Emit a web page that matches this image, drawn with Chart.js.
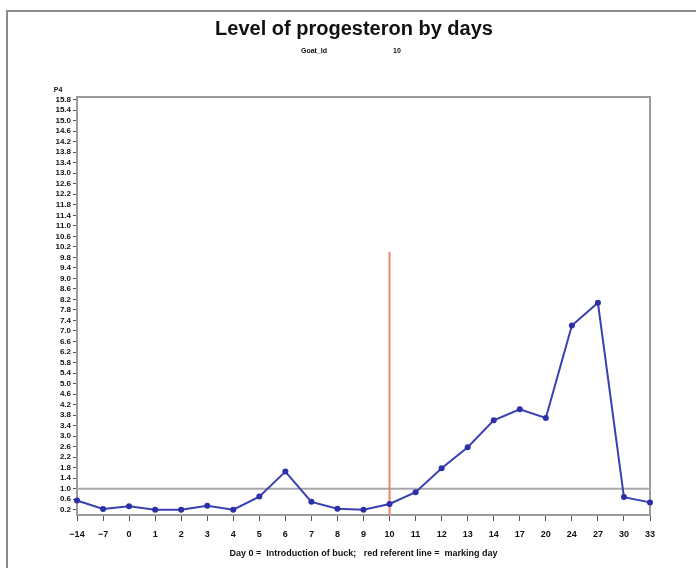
<!DOCTYPE html>
<html>
<head>
<meta charset="utf-8">
<script src="https://cdn.jsdelivr.net/npm/chart.js@4"></script>
<style>
  html, body { margin: 0; padding: 0; background: #fff; }
  #wrap { width: 696px; height: 568px; }
</style>
</head>
<body>
<div id="wrap"><canvas id="chart" width="696" height="568"></canvas></div>
<script>
// dados
const days = ['−14', '−7', '0', '1', '2', '3', '4', '5', '6', '7', '8', '9', '10',
              '11', '12', '13', '14', '17', '20', '24', '27', '30', '33'];
const progesterone = [0.55, 0.23, 0.33, 0.2, 0.2, 0.35, 0.2, 0.7, 1.65, 0.5, 0.24, 0.2, 0.42,
                      0.87, 1.78, 2.58, 3.6, 4.02, 3.69, 7.21, 8.07, 0.68, 0.48];
const yTicks = [0.2, 0.6, 1.0, 1.4, 1.8, 2.2, 2.6, 3.0, 3.4, 3.8, 4.2, 4.6, 5.0, 5.4, 5.8,
                6.2, 6.6, 7.0, 7.4, 7.8, 8.2, 8.6, 9.0, 9.4, 9.8, 10.2, 10.6, 11.0, 11.4,
                11.8, 12.2, 12.6, 13.0, 13.4, 13.8, 14.2, 14.6, 15.0, 15.4, 15.8];
const refLevel = 1.0;      // linha horizontal cinza
const markingDay = '10';   // linha vermelha
const markingTop = 10;

const FONT = '"Liberation Sans", Arial, sans-serif';

// moldura + textos do título
const decorations = {
  id: 'decorations',
  beforeDraw(chart) {
    const c = chart.ctx;
    c.save();
    c.strokeStyle = '#8a8a8a';
    c.lineWidth = 2;
    c.beginPath();
    c.moveTo(7, 568);
    c.lineTo(7, 11);
    c.lineTo(696, 11);
    c.stroke();

    c.fillStyle = '#111';
    c.textAlign = 'center';
    c.textBaseline = 'middle';
    c.font = 'bold 20px ' + FONT;
    c.fillText('Level of progesteron by days', 354, 29);
    c.font = 'bold 7px ' + FONT;
    c.fillText('Goat_Id', 314, 51);
    c.fillText('10', 397, 51);
    c.fillText('P4', 58, 90);
    c.restore();
  },
  beforeDatasetsDraw(chart) {
    // caixa do gráfico, por baixo das linhas
    const c = chart.ctx;
    const a = chart.chartArea;
    c.save();
    c.strokeStyle = '#9a9a9a';
    c.lineWidth = 2;
    c.strokeRect(a.left, a.top, a.right - a.left, a.bottom - a.top);
    c.restore();
  }
};

const ctx = document.getElementById('chart').getContext('2d');
new Chart(ctx, {
  type: 'line',
  data: {
    labels: days,
    datasets: [{
      data: progesterone,
      borderColor: '#3a3fb2',
      backgroundColor: '#2b30a8',
      borderWidth: 2,
      pointRadius: 3,
      pointBorderWidth: 0,
      tension: 0,
      clip: false,
      order: 1
    }, {
      data: [{ x: days[0], y: refLevel }, { x: days[days.length - 1], y: refLevel }],
      borderColor: '#a8a8a8',
      borderWidth: 2,
      pointRadius: 0,
      order: 3
    }, {
      data: [{ x: markingDay, y: 0 }, { x: markingDay, y: markingTop }],
      borderColor: '#f0826a',
      borderWidth: 2,
      pointRadius: 0,
      order: 2
    }]
  },
  options: {
    responsive: false,
    animation: false,
    devicePixelRatio: 1,
    layout: { padding: { left: 0, right: 46, top: 97, bottom: 0 } },
    plugins: {
      legend: { display: false },
      tooltip: { enabled: false }
    },
    scales: {
      x: {
        type: 'category',
        offset: false,
        border: { display: false },
        grid: { drawOnChartArea: false, drawTicks: true, tickLength: 6, color: '#555' },
        ticks: {
          color: '#111',
          font: { size: 9, weight: 'bold', family: FONT },
          maxRotation: 0,
          autoSkip: false,
          padding: 8
        },
        title: {
          display: true,
          text: 'Day 0 =  Introduction of buck;   red referent line =  marking day',
          color: '#111',
          font: { size: 9, weight: 'bold', family: FONT },
          padding: { top: 8, bottom: 9 }
        },
        afterFit(scale) { scale.height = 53; }
      },
      y: {
        min: 0,
        max: 15.9,
        border: { display: false },
        grid: { drawOnChartArea: false, drawTicks: true, tickLength: 4, color: '#555' },
        afterBuildTicks(scale) { scale.ticks = yTicks.map(v => ({ value: v })); },
        ticks: {
          color: '#111',
          font: { size: 8, weight: 'bold', family: FONT },
          autoSkip: false,
          padding: 2,
          callback: v => v.toFixed(1)
        },
        afterFit(scale) { scale.width = 77; }
      }
    }
  },
  plugins: [decorations]
});
</script>
</body>
</html>
